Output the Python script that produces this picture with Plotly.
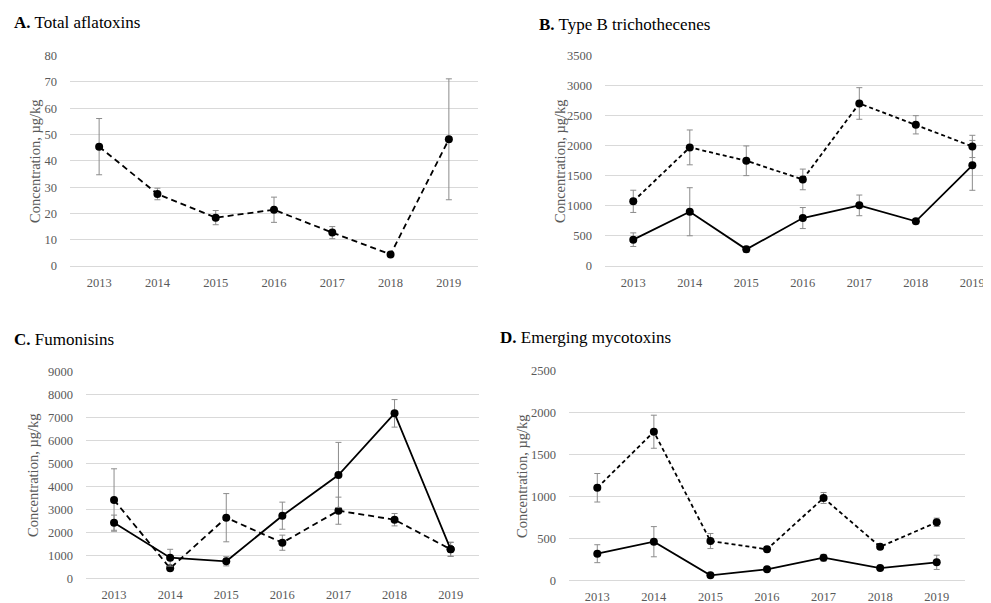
import plotly.graph_objects as go

years = ["2013", "2014", "2015", "2016", "2017", "2018", "2019"]

# A. Total aflatoxins (single dashed series)
afla = [45.4, 27.4, 18.4, 21.4, 12.7, 4.4, 48.2]
afla_err = [10.7, 2.2, 2.7, 4.8, 2.3, 0.3, 23.0]

# B. Type B trichothecenes
trich_dash = [1076, 1974, 1751, 1441, 2705, 2350, 1990]
trich_dash_err = [185, 290, 247, 172, 263, 152, 185]
trich_solid = [438, 903, 277, 798, 1009, 743, 1675]
trich_solid_err = [113, 400, 50, 175, 172, 40, 415]

# C. Fumonisins
fum_dash = [3410, 435, 2640, 1551, 2945, 2553, 1263]
fum_dash_err = [1360, 100, 1050, 330, 590, 270, 300]
fum_solid = [2423, 897, 740, 2728, 4500, 7185, 1263]
fum_solid_err = [330, 366, 200, 590, 1420, 600, 310]

# D. Emerging mycotoxins
emer_dash = [1108, 1776, 473, 374, 986, 405, 696]
emer_dash_err = [170, 197, 90, 30, 65, 15, 50]
emer_solid = [322, 465, 64, 136, 274, 151, 219]
emer_solid_err = [107, 180, 10, 10, 40, 10, 85]

# page body has an 8px default margin: size/offset the figure to fill the window
OFF = 8
W, H = 991 - OFF, 603 - OFF
FONT = "Liberation Serif"
GRID = "#d9d9d9"
TICKC = "#595959"
ERRC = "#8c8c8c"
TICKSIZE = 12.5


def px_x(p):
    return (p - OFF) / W


def px_y(p):
    return 1 - (p - OFF) / H


fig = go.Figure()


def add_series(y, err, dash, xa, ya, width):
    fig.add_trace(go.Scatter(
        x=years, y=y, mode="lines+markers",
        line=dict(color="black", width=width, dash=dash),
        marker=dict(color="black", size=8),
        error_y=dict(type="data", array=err, visible=True, color=ERRC,
                     thickness=1, width=3),
        xaxis=xa, yaxis=ya, showlegend=False,
    ))


add_series(afla, afla_err, "6px,4px", "x", "y", 1.8)
add_series(trich_solid, trich_solid_err, "solid", "x2", "y2", 1.8)
add_series(trich_dash, trich_dash_err, "4px,3px", "x2", "y2", 1.8)
add_series(fum_dash, fum_dash_err, "6px,4px", "x3", "y3", 1.8)
add_series(fum_solid, fum_solid_err, "solid", "x3", "y3", 1.8)
add_series(emer_solid, emer_solid_err, "solid", "x4", "y4", 1.8)
add_series(emer_dash, emer_dash_err, "4px,3px", "x4", "y4", 1.8)

panels = [
    # (suffix, xdom px, ydom px (top,bottom), xrange, yrange, dtick)
    ("", (70, 478), (55.7, 266), [-0.5, 6.5], [0, 80], 10),
    ("2", (605, 991), (55.7, 266), [-0.5, 6.33], [0, 3500], 500),
    ("3", (86, 478.7), (371.7, 578.3), [-0.5, 6.5], [0, 9000], 1000),
    ("4", (569, 965), (371, 580.7), [-0.5, 6.5], [0, 2500], 500),
]

layout = dict(
    width=W, height=H,
    margin=dict(l=0, r=0, t=0, b=0, autoexpand=False),
    paper_bgcolor="white", plot_bgcolor="white",
    font=dict(family=FONT, color=TICKC, size=11),
)
for suf, xd, yd, xr, yr, dt in panels:
    layout["xaxis" + suf] = dict(
        domain=[px_x(xd[0]), min(1.0, px_x(xd[1]))], range=xr, type="category",
        anchor="y" + suf, showgrid=False, zeroline=False, showline=False,
        ticks="", automargin=False, ticklabelstandoff=7, ticklabeloverflow="allow",
        tickfont=dict(family=FONT, size=TICKSIZE, color=TICKC),
    )
    layout["yaxis" + suf] = dict(
        domain=[px_y(yd[1]), px_y(yd[0])], range=yr, dtick=dt,
        anchor="x" + suf, showgrid=True, gridcolor=GRID, gridwidth=1,
        zeroline=True, zerolinecolor=GRID, zerolinewidth=1,
        showline=False, ticks="", ticklabelstandoff=12, automargin=False,
        tickfont=dict(family=FONT, size=TICKSIZE, color=TICKC),
    )

fig.update_layout(**layout)

titles = [
    ("<b>A.</b> Total aflatoxins", 12, 22),
    ("<b>B.</b> Type B trichothecenes", 537, 24),
    ("<b>C.</b> Fumonisins", 12, 339),
    ("<b>D.</b> Emerging mycotoxins", 498, 337),
]
for txt, x, y in titles:
    fig.add_annotation(text=txt, x=px_x(x), y=px_y(y), xref="paper", yref="paper",
                       xanchor="left", yanchor="middle", showarrow=False,
                       font=dict(family=FONT, size=17, color="black"))

ytitles = [(35, 161), (560, 161), (33, 475), (522, 476)]
for x, y in ytitles:
    fig.add_annotation(text="Concentration, µg/kg", x=px_x(x), y=px_y(y),
                       xref="paper", yref="paper", xanchor="center", yanchor="middle",
                       textangle=-90, showarrow=False,
                       font=dict(family=FONT, size=14.5, color=TICKC))

fig.write_html("out.html")
